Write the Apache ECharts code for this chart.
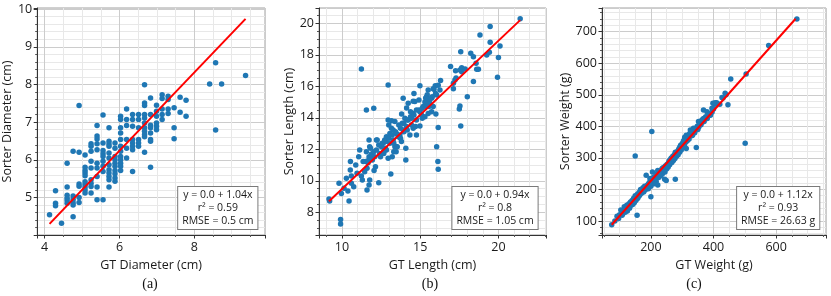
<!DOCTYPE html>
<html><head><meta charset="utf-8">
<script src="https://cdn.jsdelivr.net/npm/echarts@6/dist/echarts.min.js"></script>
<style>html,body{margin:0;padding:0;background:#fff}#c{width:831px;height:296px}</style>
</head><body><div id="c"></div><script>
// ---- Panel (a): diameter ----
const diameterPoints = [
 [4.13,4.54],
 [4.29,5.18],[4.29,4.85],[4.29,4.78],
 [4.45,4.32],
 [4.6,5.91],[4.6,5.28],[4.6,5.06],[4.6,4.98],[4.6,4.92],[4.6,4.85],
 [4.76,6.23],[4.76,5.04],[4.76,4.95],[4.76,4.86],[4.76,4.8],[4.76,4.49],
 [4.92,7.44],[4.92,6.2],[4.92,5.36],[4.92,5.3],[4.92,5.0],[4.92,4.87],
 [5.08,6.13],[5.08,5.8],[5.08,5.72],[5.08,5.65],[5.08,5.58],[5.08,5.42],[5.08,5.35],[5.08,5.28],[5.08,5.2],[5.08,5.12],
 [5.24,6.43],[5.24,6.36],[5.24,6.23],[5.24,5.96],[5.24,5.78],[5.24,5.47],[5.24,5.38],[5.24,5.29],[5.24,5.12],
 [5.4,6.91],[5.4,6.63],[5.4,6.55],[5.4,6.43],[5.4,6.27],[5.4,5.91],[5.4,5.78],[5.4,5.56],[5.4,5.28],[5.4,4.94],
 [5.56,7.19],[5.56,6.45],[5.56,6.25],[5.56,6.16],[5.56,6.09],[5.56,5.96],[5.56,5.83],[5.56,5.69],[5.56,4.94],
 [5.72,6.85],[5.72,6.49],[5.72,6.42],[5.72,6.36],[5.72,6.18],[5.72,6.05],[5.72,5.87],[5.72,5.74],[5.72,5.65],[5.72,5.56],[5.72,5.47],[5.72,5.28],
 [5.88,6.45],[5.88,6.31],[5.88,6.09],[5.88,6.0],[5.88,5.91],[5.88,5.83],[5.88,5.72],[5.88,5.63],[5.88,5.52],[5.88,5.43],
 [6.03,7.16],[6.03,7.07],[6.03,6.85],[6.03,6.71],[6.03,6.54],[6.03,6.36],[6.03,6.23],[6.03,6.09],[6.03,6.0],[6.03,5.91],[6.03,5.83],[6.03,5.72],
 [6.19,7.35],[6.19,7.07],[6.19,6.91],[6.19,6.54],[6.19,6.31],[6.19,6.05],
 [6.35,7.2],[6.35,7.07],[6.35,6.89],[6.35,6.54],[6.35,6.45],[6.35,6.36],[6.35,6.27],[6.35,5.69],
 [6.51,7.2],[6.51,7.07],[6.51,6.85],[6.51,6.54],[6.51,6.45],[6.51,6.36],
 [6.67,7.99],[6.67,7.51],[6.67,7.44],[6.67,7.2],[6.67,7.11],[6.67,6.98],[6.67,6.85],[6.67,6.76],[6.67,6.67],[6.67,6.61],[6.67,6.2],
 [6.83,7.64],[6.83,7.2],[6.83,6.92],[6.83,6.85],[6.83,6.71],[6.83,6.54],[6.83,6.49],[6.83,5.8],
 [6.99,7.45],[6.99,7.29],[6.99,7.16],[6.99,6.98],[6.99,6.89],[6.99,6.8],
 [7.14,7.73],[7.14,7.63],[7.14,7.35],[7.14,7.2],[7.14,7.07],
 [7.3,7.69],[7.3,7.6],[7.3,7.35],[7.3,7.23],
 [7.46,7.38],[7.46,6.85],[7.46,6.56],
 [7.62,7.66],[7.62,7.26],
 [7.78,7.58],[7.78,7.16],
 [8.41,8.01],[8.57,8.58],[8.57,6.79],[8.73,8.01],[9.37,8.24]
];
const diameterFit = [[4.13,4.30],[9.37,9.74]];
const diameterStats = ['y = 0.0 + 1.04x','r\u00b2 = 0.59','RMSE = 0.5 cm'];

// ---- Panel (b): length ----
const lengthPoints = [
 [9.17,8.85],[9.21,8.72],[9.91,7.55],[9.91,7.26],[9.81,9.84],[9.96,9.2],[10.13,9.52],[10.28,10.16],[10.45,8.72],[10.38,9.35],
 [10.53,10.69],[10.6,10.31],[10.6,9.84],[10.75,9.63],[10.88,11.0],[10.96,10.48],[11.07,11.53],[11.13,11.96],[11.24,10.31],[11.3,10.05],
 [11.35,11.22],[11.45,10.58],[11.56,11.85],[11.6,10.79],[11.6,9.42],[11.73,9.74],[11.77,10.05],[11.67,11.15],[11.73,11.53],[11.77,12.17],
 [11.88,11.7],[11.94,11.32],[12.05,10.65],[12.09,11.53],[12.2,11.96],[12.2,12.59],[11.73,12.59],[12.35,9.88],[12.41,11.74],[11.56,14.5],
 [12.03,14.6],[11.24,17.1],
 [12.52,12.17],[12.63,12.38],[12.73,12.59],[12.67,11.85],[12.84,11.96],[12.84,12.8],[12.95,11.43],[12.95,13.86],[13.06,13.01],[13.06,12.38],
 [13.16,13.33],[13.27,13.23],[13.27,12.59],[13.31,11.85],[13.38,13.76],[13.38,12.17],[13.48,13.01],[13.48,12.17],[13.59,12.8],[13.7,12.91],
 [13.74,13.33],[13.8,12.49],[13.91,13.23],[13.95,13.65],[14.02,13.97],[14.08,12.06],[14.08,11.32],[14.12,13.44],[14.23,13.86],[14.23,14.92],
 [14.34,12.91],[14.44,13.54],[14.44,13.97],[14.55,14.28],[14.55,13.33],[13.12,10.43],[12.95,16.08],
 [14.66,15.03],[14.76,14.5],[14.76,13.86],[14.76,12.91],[14.98,14.39],[14.98,13.48],[14.98,16.04],[15.08,14.18],[15.19,14.71],[15.3,14.07],
 [15.41,15.34],[15.41,15.13],[15.41,14.71],[15.51,15.77],[15.51,14.28],[15.62,14.92],[15.73,15.24],[15.73,14.39],[15.83,14.71],[15.96,16.04],
 [16.0,14.24],[16.05,15.45],[16.05,12.17],[16.13,11.22],[16.15,10.73],[16.15,13.38],[16.26,15.77],[16.3,16.36],[13.91,15.24],
 [16.94,17.25],[17.12,16.19],[17.22,16.4],[17.26,16.99],[17.54,17.04],[17.65,17.18],[17.65,16.93],[17.59,18.2],[17.54,14.75],[17.5,14.56],
 [17.59,13.48],[18.01,15.34],[18.23,18.09],[18.4,17.88],[18.4,16.3],[18.57,17.46],[18.61,17.08],[18.72,17.08],[18.82,19.26],[19.25,17.99],
 [19.42,18.16],[19.47,18.79],[19.47,19.79],[19.94,16.57],[20.0,17.82],[20.1,18.56],[21.39,20.28],
 [12.25,12.59],[12.35,12.27],[12.57,12.38],[12.78,12.49],[12.99,12.7],[13.21,12.91],[13.42,13.12],[13.63,13.54],[13.85,13.65],[14.17,13.86],
 [14.38,14.07],[14.6,14.18],[14.92,14.5],[15.13,14.6],[15.34,14.81],[15.56,15.13],[15.77,15.34],[15.88,15.81],[15.98,15.55],[12.78,12.06],
 [12.67,11.74],[12.46,11.53],[11.92,11.53],[11.71,11.32],[11.5,11.22],[12.03,11.85],[11.82,12.06],[13.31,12.38],[13.53,12.17],[13.74,12.7],
 [13.95,13.12],[12.99,13.54],[14.17,13.23],[14.7,13.44],[15.13,13.97],[15.56,14.71],[14.92,15.13],[14.6,15.55],[14.38,14.39],[13.46,11.85],
 [13.21,11.53],[12.14,10.9],[10.54,11.22],
 [17.87,17.1],[17.29,16.53],[17.12,15.85],[16.15,16.06],[15.83,15.85],[14.55,15.05],[15.45,15.47],[14.13,14.62],[13.81,14.24],[13.17,13.82],
 [15.3,15.0],[15.5,14.9],[15.6,15.2],[15.35,15.25]
];
const lengthFit = [[9.17,8.7],[21.39,20.2]];
const lengthStats = ['y = 0.0 + 0.94x','r\u00b2 = 0.8','RMSE = 1.05 cm'];

// ---- Panel (c): weight ----
const weightPoints = [
 [75,88],[85,100],[92,115],[97,108],[100,120],[104,135],[108,118],[112,130],[115,145],[118,128],[120,140],[123,150],[125,132],[128,147],
 [130,155],[132,140],[135,160],[137,150],[140,165],[142,152],[145,172],[147,158],[150,180],[152,165],[155,170],[157,185],[160,178],[162,190],
 [165,183],[167,200],[170,188],[172,195],[175,205],[177,192],[180,210],[182,198],[185,245],[187,205],[190,215],[192,202],[195,222],[197,235],
 [200,210],[202,225],[205,255],[207,230],[210,218],[212,240],[215,235],[217,225],[220,245],[222,260],[225,238],[227,250],[230,255],[232,243],
 [235,265],[237,250],[240,260],[242,270],[245,255],[247,275],[250,265],[252,280],[255,270],[257,285],[260,278],[262,295],[265,300],[267,285],
 [270,305],[272,292],[275,310],[277,298],[280,315],[282,305],[285,320],[287,310],[290,330],[292,318],[295,340],[297,325],[300,345],[302,335],
 [305,355],[307,342],[310,360],[312,350],[315,365],[317,355],[320,372],[322,360],[325,378],[330,370],[335,385],[340,380],[345,395],[350,390],
 [355,410],[360,405],[365,420],[370,415],[375,430],[380,425],[385,440],[390,435],[395,445],[400,455],[405,470],[410,475],[420,470],[430,490],[440,500],
 [110,122],[118,135],[126,140],[133,148],[138,158],[143,160],[148,168],[153,175],[158,172],[163,180],[168,192],[173,200],[178,200],[183,208],
 [188,212],[193,218],[198,220],[203,232],[208,238],[213,232],[218,248],[223,252],[228,245],[233,258],[238,268],[243,262],[248,270],[253,275],
 [258,290],[263,285],[268,298],[273,302],[278,318],[283,312],[288,325],[293,335],[298,338],[303,350],[308,365],[313,372],[318,368],[323,375],
 [328,380],[333,372],[338,392],[343,388],[348,400],[353,398],[358,415],[363,412],[368,425],
 [150,306],[156,118],[203,384],[200,177],[244,232],[249,228],[222,214],[278,232],[313,330],[345,333],[368,452],[379,446],[398,473],[395,457],
 [405,475],[387,436],[373,425],[363,420],[352,415],[336,394],[326,388],[427,491],[437,505],[446,468],[455,550],[504,566],[501,346],[576,656],[666,740]
];
const weightFit = [[75,88],[662,741]];
const weightStats = ['y = 0.0 + 1.12x','r\u00b2 = 0.93','RMSE = 26.63 g'];

const captions = ['(a)','(b)','(c)'];
const xNames = ['GT Diameter (cm)','GT Length (cm)','GT Weight (g)'];
const yNames = ['Sorter Diameter (cm)','Sorter Length (cm)','Sorter Weight (g)'];

// ---- layout ----
const grids = [
  {left:37, top:8, width:228, height:227},
  {left:319, top:8, width:227, height:227},
  {left:602, top:8, width:224, height:227}
];
const xRanges = [[3.8,9.89,2,4],[8.53,23.04,5,5],[44,759,200,4]];
const yRanges = [[4.005,10.03,1,5],[6.56,20.97,2,4],[55.6,775,100,5]];
const yNameGaps = [21,21,30];

const FONT = 'Open Sans';
function axis(i, r, name, gap, isX) {
  return {
    type:'value', gridIndex:i, min:r[0], max:r[1],
    minInterval:r[2], maxInterval:r[2], splitNumber:Math.round((r[1]-r[0])/r[2]),
    name:name, nameLocation:'middle', nameGap:gap,
    nameTextStyle:{fontFamily:FONT, fontSize:12.5, color:'#1a1a1a'},
    axisLine:{show:true, onZero:false, lineStyle:{color:'#333', width:1}},
    axisTick:{show:true, length:3.5, lineStyle:{color:'#333', width:1}},
    minorTick:{show:true, splitNumber:r[3], length:2, lineStyle:{color:'#555', width:1}},
    axisLabel:{fontFamily:FONT, fontSize:12.5, color:'#1a1a1a', margin:isX?6:5, showMinLabel:false, showMaxLabel:false},
    splitLine:{show:true, lineStyle:{color:'#cccccc', width:1}},
    minorSplitLine:{show:true, lineStyle:{color:'#e8e8e8', width:1}}
  };
}

const pts = [diameterPoints, lengthPoints, weightPoints];
const fits = [diameterFit, lengthFit, weightFit];
const stats = [diameterStats, lengthStats, weightStats];
const boxCenters = [[217.8,208],[495,208],[778.2,208]];
const capCenters = [[150,284],[430,284],[694,284]];

const series = [];
const graphic = [];
for (let i=0;i<3;i++){
  series.push({type:'scatter', xAxisIndex:i, yAxisIndex:i, data:pts[i], symbol:'circle', symbolSize:5.5,
    itemStyle:{color:'#1f77b4', opacity:1}, z:2, silent:true});
  series.push({type:'line', xAxisIndex:i, yAxisIndex:i, data:fits[i], showSymbol:false, symbol:'none',
    lineStyle:{color:'#ff0000', width:2}, z:3, silent:true});
  graphic.push({type:'text', x:boxCenters[i][0], y:boxCenters[i][1], z:100,
    style:{text:stats[i].join('\n'), font:'10.5px "Open Sans"', fill:'#1a1a1a', align:'center', verticalAlign:'middle',
      lineHeight:13, backgroundColor:'#fff', borderColor:'#7a7a7a', borderWidth:1, padding:[2,4,1,4]}});
  graphic.push({type:'text', x:capCenters[i][0], y:capCenters[i][1], z:100,
    style:{text:captions[i], font:'14px "Liberation Serif"', fill:'#111', align:'center', verticalAlign:'middle'}});
}

const chart = echarts.init(document.getElementById('c'), null, {renderer:'canvas'});
chart.setOption({
  animation:false,
  backgroundColor:'#fff',
  grid: grids.map(g => Object.assign({show:true, borderColor:'#a0a0a0', borderWidth:1, backgroundColor:'transparent', containLabel:false}, g)),
  xAxis: [0,1,2].map(i => axis(i, xRanges[i], xNames[i], 20, true)),
  yAxis: [0,1,2].map(i => axis(i, yRanges[i], yNames[i], yNameGaps[i], false)),
  series: series,
  graphic: graphic
});
</script></body></html>
